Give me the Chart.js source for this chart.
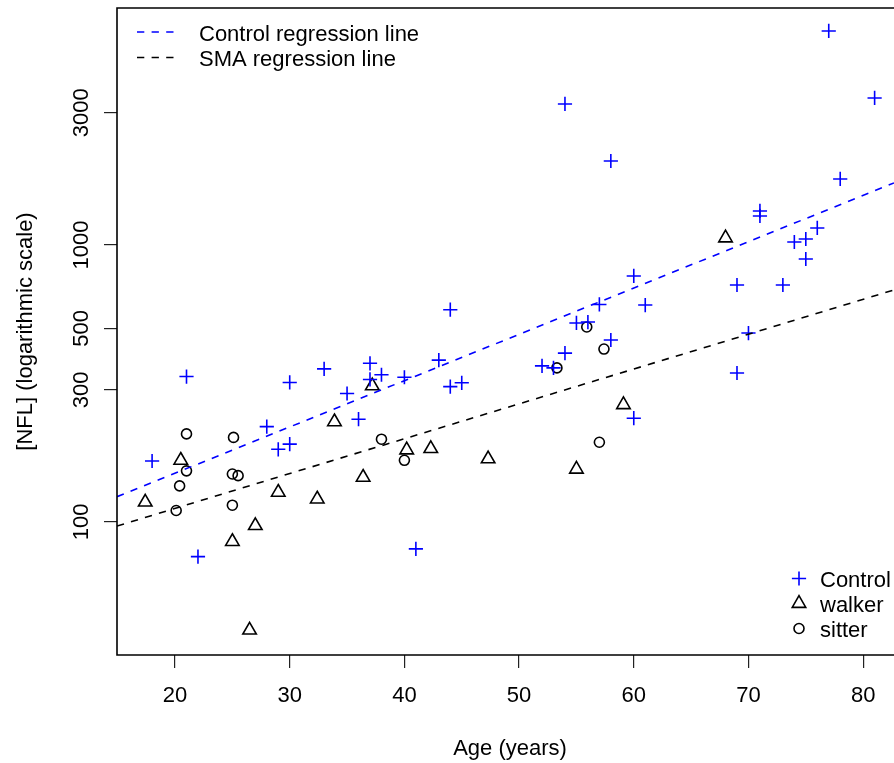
<!DOCTYPE html>
<html>
<head>
<meta charset="utf-8">
<script src="https://cdn.jsdelivr.net/npm/chart.js@4.4.1/dist/chart.umd.min.js"></script>
<style>
  html, body { margin: 0; padding: 0; background: #fff; }
</style>
</head>
<body>
<canvas id="nflChart" width="894" height="763"></canvas>
<script>
// values
const controlAge = [18, 21, 22, 28, 29, 30, 30, 33, 35, 36,
                    37, 37, 38, 40, 41, 43, 44, 44, 45, 52,
                    53, 54, 54, 55, 56, 57, 58, 58, 60, 60,
                    61, 69, 69, 70, 71, 71, 73, 74, 75, 75,
                    76, 77, 78, 81];
const controlNfl = [166, 335, 75, 221, 183, 319, 191, 357, 291, 235,
                    374, 327, 340, 333, 80, 384, 308, 584, 318, 366,
                    360, 407, 3230, 523, 527, 610, 454, 2010, 773, 237,
                    607, 717, 345, 481, 1327, 1273, 717, 1025, 1051, 890,
                    1152, 5925, 1731, 3394];

const walkerAge = [17.4, 20.5, 25.0, 26.5, 27.0, 29.0, 32.4, 33.9, 36.4, 37.2, 40.2, 42.3, 47.3, 55.0, 59.1, 68.0];
const walkerNfl = [118, 167, 85, 40.7, 97, 128, 121, 230, 145, 310, 182, 184, 169, 155, 265, 1060];

const sitterAge = [20.1, 20.4, 21.0, 21.0, 25.0, 25.0, 25.1, 25.5, 38.0, 40.0, 53.3, 55.9, 57.0, 57.4];
const sitterNfl = [110, 135, 153, 208, 115, 149, 202, 147, 199, 167, 360, 506, 194, 421];

// regression lines, end points at the plot edges
const controlFitAge = [14.94, 82.69];
const controlFitNfl = [123.4, 1675];
const smaFitAge = [14.94, 82.69];
const smaFitNfl = [96.7, 688];

const xTicks = [20, 30, 40, 50, 60, 70, 80];
const yTicks = [100, 300, 500, 1000, 3000];

const FONT = '22px "Liberation Sans", Arial, Helvetica, sans-serif';
const BLUE = '#0000ff';

const toPoints = (xs, ys) => xs.map((v, i) => ({ x: v, y: ys[i] }));

function drawSymbol(ctx, style, x, y, r) {
    ctx.beginPath();
    if (style === 'cross') {
        ctx.moveTo(x - r, y); ctx.lineTo(x + r, y);
        ctx.moveTo(x, y - r); ctx.lineTo(x, y + r);
    } else if (style === 'triangle') {
        let rad = 0;
        ctx.moveTo(x + Math.sin(rad) * r, y - Math.cos(rad) * r);
        rad += 2 * Math.PI / 3;
        ctx.lineTo(x + Math.sin(rad) * r, y - Math.cos(rad) * r);
        rad += 2 * Math.PI / 3;
        ctx.lineTo(x + Math.sin(rad) * r, y - Math.cos(rad) * r);
        ctx.closePath();
    } else {
        ctx.arc(x, y, r, 0, Math.PI * 2);
    }
    ctx.stroke();
}

// box, tick labels, titles and both legends in R style
const rFrame = {
    id: 'rFrame',
    afterDraw(chart) {
        const { ctx, chartArea: a, scales } = chart;
        ctx.save();
        ctx.strokeStyle = '#000';
        ctx.lineWidth = 1.6;
        ctx.beginPath();
        ctx.moveTo(a.right + 20, a.top);
        ctx.lineTo(a.left, a.top);
        ctx.lineTo(a.left, a.bottom);
        ctx.lineTo(a.right + 20, a.bottom);
        ctx.stroke();

        ctx.fillStyle = '#000';
        ctx.font = FONT;
        ctx.textAlign = 'center';
        ctx.textBaseline = 'alphabetic';
        xTicks.forEach(v => ctx.fillText(String(v), scales.x.getPixelForValue(v), 702));
        ctx.fillText('Age (years)', 510, 755);

        yTicks.forEach(v => {
            ctx.save();
            ctx.translate(88, scales.y.getPixelForValue(v));
            ctx.rotate(-Math.PI / 2);
            ctx.fillText(String(v), 0, 0);
            ctx.restore();
        });
        ctx.save();
        ctx.translate(32, (a.top + a.bottom) / 2);
        ctx.rotate(-Math.PI / 2);
        ctx.fillText('[NFL] (logarithmic scale)', 0, 0);
        ctx.restore();

        // top-left legend
        ctx.textAlign = 'left';
        ctx.lineWidth = 1.6;
        ctx.setLineDash([7.3, 7.3]);
        [['Control regression line', BLUE, 32], ['SMA regression line', '#000', 57.5]].forEach(([txt, col, yy]) => {
            ctx.strokeStyle = col;
            ctx.beginPath();
            ctx.moveTo(137, yy);
            ctx.lineTo(175, yy);
            ctx.stroke();
            ctx.fillText(txt, 199, yy + 8.5);
        });
        ctx.setLineDash([]);

        // bottom-right legend
        [['Control', 'cross', BLUE, 7.1], ['walker', 'triangle', '#000', 7.8], ['sitter', 'circle', '#000', 5]].forEach(([txt, st, col, r], i) => {
            const yy = 578.5 + i * 25;
            ctx.strokeStyle = col;
            ctx.lineWidth = 1.6;
            drawSymbol(ctx, st, 799, yy, r);
            ctx.fillText(txt, 820, yy + 8.2);
        });
        ctx.restore();
    }
};

new Chart(document.getElementById('nflChart').getContext('2d'), {
    type: 'scatter',
    data: {
        datasets: [
            {
                type: 'line',
                label: 'Control regression line',
                data: toPoints(controlFitAge, controlFitNfl),
                borderColor: BLUE,
                borderWidth: 1.6,
                borderDash: [7.3, 7.3],
                pointRadius: 0,
                fill: false
            },
            {
                type: 'line',
                label: 'SMA regression line',
                data: toPoints(smaFitAge, smaFitNfl),
                borderColor: '#000',
                borderWidth: 1.6,
                borderDash: [7.3, 7.3],
                pointRadius: 0,
                fill: false
            },
            {
                label: 'Control',
                data: toPoints(controlAge, controlNfl),
                pointStyle: 'cross',
                pointRadius: 7.1,
                borderColor: BLUE,
                backgroundColor: 'rgba(0,0,0,0)',
                borderWidth: 1.6
            },
            {
                label: 'walker',
                data: toPoints(walkerAge, walkerNfl),
                pointStyle: 'triangle',
                pointRadius: 7.8,
                borderColor: '#000',
                backgroundColor: 'rgba(0,0,0,0)',
                borderWidth: 1.6
            },
            {
                label: 'sitter',
                data: toPoints(sitterAge, sitterNfl),
                pointStyle: 'circle',
                pointRadius: 5,
                borderColor: '#000',
                backgroundColor: 'rgba(0,0,0,0)',
                borderWidth: 1.6
            }
        ]
    },
    options: {
        responsive: false,
        animation: false,
        layout: { autoPadding: false, padding: { top: 8, right: 0, left: 0, bottom: 0 } },
        plugins: {
            legend: { display: false },
            tooltip: { enabled: false }
        },
        scales: {
            x: {
                type: 'linear',
                min: 14.94,
                max: 82.69,
                afterBuildTicks: s => { s.ticks = xTicks.map(v => ({ value: v })); },
                afterFit: s => { s.height = 108; s.paddingLeft = 0; s.paddingRight = 0; },
                border: { display: false },
                grid: { drawOnChartArea: false, drawTicks: true, tickLength: 13, color: '#222', lineWidth: 1.2 },
                ticks: { display: false }
            },
            y: {
                type: 'logarithmic',
                min: 33.1,
                max: 7170,
                afterBuildTicks: s => { s.ticks = yTicks.map(v => ({ value: v })); },
                afterFit: s => { s.width = 117; s.paddingTop = 0; s.paddingBottom = 0; },
                border: { display: false },
                grid: { drawOnChartArea: false, drawTicks: true, tickLength: 13, color: '#222', lineWidth: 1.2 },
                ticks: { display: false }
            }
        }
    },
    plugins: [rFrame]
});
</script>
</body>
</html>
